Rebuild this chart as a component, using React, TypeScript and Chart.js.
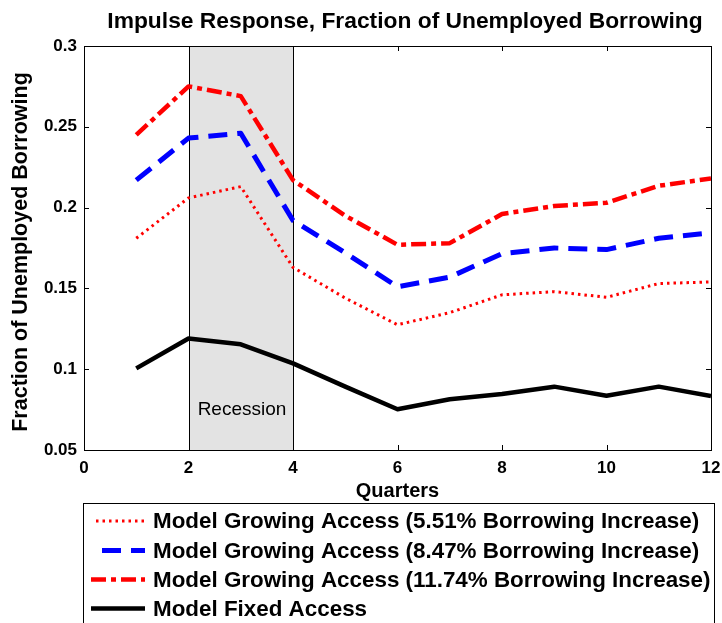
import React, { useEffect, useRef } from "react";
import { Chart, registerables } from "chart.js";

Chart.register(...registerables);

// ---------- data ----------
const quarters = [1, 2, 3, 4, 5, 6, 7, 8, 9, 10, 11, 12];
const growing551 = [0.181, 0.206, 0.213, 0.163, 0.144, 0.1275, 0.135, 0.146, 0.148, 0.1445, 0.153, 0.154];
const growing847 = [0.217, 0.243, 0.246, 0.192, 0.172, 0.151, 0.157, 0.1715, 0.175, 0.174, 0.181, 0.1845];
const growing1174 = [0.245, 0.275, 0.269, 0.217, 0.195, 0.177, 0.178, 0.196, 0.201, 0.203, 0.2135, 0.218];
const fixedAccess = [0.1005, 0.119, 0.1154, 0.1036, 0.0892, 0.0752, 0.0814, 0.0847, 0.0892, 0.0836, 0.0892, 0.0834];
const seriesLabels = [
  "Model Growing Access (5.51% Borrowing Increase)",
  "Model Growing Access (8.47% Borrowing Increase)",
  "Model Growing Access (11.74% Borrowing Increase)",
  "Model Fixed Access",
];
const xTickValues = [0, 2, 4, 6, 8, 10, 12];
const yTickValues = [0.05, 0.1, 0.15, 0.2, 0.25, 0.3];
const recessionSpan = [2, 4];
const titleText = "Impulse Response, Fraction of Unemployed Borrowing";
const xTitleText = "Quarters";
const yTitleText = "Fraction of Unemployed Borrowing";
const recessionText = "Recession";

const FONT = '"Liberation Sans", Arial, Helvetica, sans-serif';

const decorPlugin = {
  id: "decor",
  beforeDatasetsDraw(chart: any) {
    const { ctx, chartArea, scales } = chart;
    const x = scales.x;
    const x0 = Math.round(x.getPixelForValue(recessionSpan[0]));
    const x1 = Math.round(x.getPixelForValue(recessionSpan[1]));
    ctx.save();
    ctx.fillStyle = "#e3e3e3";
    ctx.fillRect(x0, chartArea.top, x1 - x0, chartArea.bottom - chartArea.top);
    ctx.strokeStyle = "#000";
    ctx.lineWidth = 1;
    ctx.beginPath();
    ctx.moveTo(x0 + 0.5, chartArea.top);
    ctx.lineTo(x0 + 0.5, chartArea.bottom);
    ctx.moveTo(x1 + 0.5, chartArea.top);
    ctx.lineTo(x1 + 0.5, chartArea.bottom);
    ctx.stroke();
    ctx.fillStyle = "#000";
    ctx.font = `19px ${FONT}`;
    ctx.textAlign = "center";
    ctx.textBaseline = "middle";
    ctx.fillText(recessionText, (x0 + x1) / 2 + 1, 410);
    ctx.restore();
  },
  afterDatasetsDraw(chart: any) {
    const { ctx, chartArea, scales } = chart;
    const left = Math.round(chartArea.left);
    const right = Math.round(chartArea.right);
    const top = Math.round(chartArea.top);
    const bottom = Math.round(chartArea.bottom);
    ctx.save();
    ctx.strokeStyle = "#000";
    ctx.lineWidth = 1;
    ctx.strokeRect(left + 0.5, top + 0.5, right - left, bottom - top);
    ctx.beginPath();
    const tl = 5;
    xTickValues.forEach((v) => {
      const px = Math.round(scales.x.getPixelForValue(v)) + 0.5;
      ctx.moveTo(px, bottom);
      ctx.lineTo(px, bottom - tl);
      ctx.moveTo(px, top);
      ctx.lineTo(px, top + tl);
    });
    yTickValues.forEach((v) => {
      const py = Math.round(scales.y.getPixelForValue(v)) + 0.5;
      ctx.moveTo(left, py);
      ctx.lineTo(left + tl, py);
      ctx.moveTo(right, py);
      ctx.lineTo(right - tl, py);
    });
    ctx.stroke();
    ctx.restore();
  },
  afterDraw(chart: any) {
    const { ctx, chartArea } = chart;
    ctx.save();
    ctx.fillStyle = "#000";
    // title
    ctx.font = `bold 22.8px ${FONT}`;
    ctx.textAlign = "center";
    ctx.textBaseline = "middle";
    ctx.fillText(titleText, 405, 22);
    // x title
    ctx.font = `bold 20px ${FONT}`;
    ctx.fillText(xTitleText, (chartArea.left + chartArea.right) / 2, 491);
    // y title
    ctx.save();
    ctx.translate(21, 252);
    ctx.rotate(-Math.PI / 2);
    ctx.font = `bold 21.5px ${FONT}`;
    ctx.fillText(yTitleText, 0, 0);
    ctx.restore();
    // legend
    const bx = 83.5, by = 503.5, bw = 631, bh = 140;
    ctx.fillStyle = "#fff";
    ctx.fillRect(bx, by, bw, bh);
    ctx.strokeStyle = "#000";
    ctx.lineWidth = 1;
    ctx.strokeRect(bx, by, bw, bh);
    const rowY = [521, 550.5, 579.5, 608.5];
    chart.data.datasets.forEach((ds: any, i: number) => {
      const y = rowY[i];
      ctx.save();
      ctx.strokeStyle = ds.borderColor;
      ctx.lineWidth = ds.borderWidth;
      ctx.setLineDash(ds.borderDash || []);
      ctx.lineCap = "butt";
      ctx.beginPath();
      ctx.moveTo(ds.legendStart, y);
      ctx.lineTo(145, y);
      ctx.stroke();
      ctx.restore();
      ctx.fillStyle = "#000";
      ctx.font = `bold 22.4px ${FONT}`;
      ctx.textAlign = "left";
      ctx.textBaseline = "middle";
      ctx.fillText(ds.label, 153, y + 1);
    });
    ctx.restore();
  },
};

export default function App() {
  const canvasRef = useRef<HTMLCanvasElement | null>(null);

  useEffect(() => {
    const canvas = canvasRef.current;
    if (!canvas) return;
    const mk = (vals: number[]) => quarters.map((q, i) => ({ x: q, y: vals[i] }));
    const chart = new Chart(canvas, {
      type: "line",
      data: {
        datasets: [
          {
            label: seriesLabels[0],
            data: mk(growing551),
            borderColor: "#ff0000",
            borderWidth: 3,
            borderDash: [2.5, 4],
            legendStart: 96,
            pointRadius: 0,
          } as any,
          {
            label: seriesLabels[1],
            data: mk(growing847),
            borderColor: "#0000ff",
            borderWidth: 5,
            borderDash: [19, 10],
            legendStart: 102,
            pointRadius: 0,
          } as any,
          {
            label: seriesLabels[2],
            data: mk(growing1174),
            borderColor: "#ff0000",
            borderWidth: 4.5,
            borderDash: [15, 5, 5, 5],
            legendStart: 91,
            pointRadius: 0,
          } as any,
          {
            label: seriesLabels[3],
            data: mk(fixedAccess),
            borderColor: "#000000",
            borderWidth: 4.5,
            legendStart: 91,
            pointRadius: 0,
          } as any,
        ],
      },
      options: {
        responsive: false,
        devicePixelRatio: 1,
        animation: false,
        layout: { padding: { left: 0, right: 11, top: 46, bottom: 0 } },
        elements: { line: { tension: 0, borderJoinStyle: "round", borderCapStyle: "butt", fill: false } },
        plugins: {
          legend: { display: false },
          title: { display: false },
          tooltip: { enabled: false },
        },
        scales: {
          x: {
            type: "linear",
            min: 0,
            max: 12,
            afterBuildTicks: (s: any) => {
              s.ticks = xTickValues.map((v) => ({ value: v }));
            },
            afterFit: (s: any) => {
              s.height = 173;
              s.paddingLeft = 0;
              s.paddingRight = 0;
            },
            grid: { display: false, drawTicks: false },
            border: { display: false },
            ticks: {
              color: "#000",
              font: { family: FONT, size: 17, weight: "bold" },
              padding: 8,
              maxRotation: 0,
              callback: (v: any) => String(v),
            },
          },
          y: {
            type: "linear",
            min: 0.05,
            max: 0.3,
            afterBuildTicks: (s: any) => {
              s.ticks = yTickValues.map((v) => ({ value: v }));
            },
            afterFit: (s: any) => {
              s.width = 84;
              s.paddingTop = 0;
              s.paddingBottom = 0;
            },
            grid: { display: false, drawTicks: false },
            border: { display: false },
            ticks: {
              color: "#000",
              font: { family: FONT, size: 17, weight: "bold" },
              padding: 7,
              callback: (v: any) => String(v),
            },
          },
        },
      } as any,
      plugins: [decorPlugin],
    });
    return () => chart.destroy();
  }, []);

  return (
    <div style={{ position: "absolute", left: 0, top: 0, width: 722, height: 623, background: "#fff" }}>
      <canvas ref={canvasRef} width={722} height={623} style={{ display: "block" }} />
    </div>
  );
}
